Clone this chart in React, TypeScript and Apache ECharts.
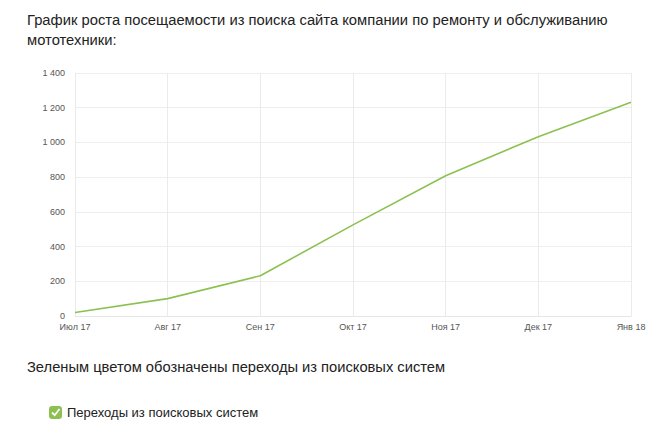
import React, { useEffect, useRef } from "react";
import * as echarts from "echarts";

const categories = ["Июл 17", "Авг 17", "Сен 17", "Окт 17", "Ноя 17", "Дек 17", "Янв 18"];
const visits = [20, 100, 232, 525, 808, 1033, 1231];
const seriesName = "Переходы из поисковых систем";
const titleLines = [
  "График роста посещаемости из поиска сайта компании по ремонту и обслуживанию",
  "мототехники:",
];
const caption = "Зеленым цветом обозначены переходы из поисковых систем";

const GREEN = "#8cc152";
const FONT = "'Liberation Sans', Arial, sans-serif";

export default function App() {
  const ref = useRef<HTMLDivElement>(null);
  useEffect(() => {
    if (!ref.current) return;
    const chart = echarts.init(ref.current, undefined, { renderer: "svg" });
    chart.setOption({
      animation: false,
      backgroundColor: "#ffffff",
      textStyle: { fontFamily: FONT },
      grid: { left: 75, right: 31, top: 73, bottom: 121, containLabel: false },
      xAxis: {
        type: "category",
        data: categories,
        boundaryGap: false,
        axisLine: { show: true, lineStyle: { color: "#e6e6e6" } },
        axisTick: { show: false },
        axisLabel: { color: "#555", fontSize: 9, margin: 6, fontFamily: FONT },
        splitLine: { show: true, lineStyle: { color: "#ebebeb", width: 1 } },
      },
      yAxis: {
        type: "value",
        min: 0,
        max: 1400,
        interval: 200,
        axisLine: { show: false },
        axisTick: { show: false },
        axisLabel: {
          color: "#555",
          fontSize: 9,
          margin: 10,
          fontFamily: FONT,
          formatter: (v: number) => String(v).replace(/\B(?=(\d{3})+(?!\d))/g, " "),
        },
        splitLine: { show: true, lineStyle: { color: "#eeeeee", width: 1 } },
      },
      legend: {
        left: 49,
        top: 406,
        itemWidth: 13,
        itemHeight: 13,
        itemGap: 6,
        icon: "roundRect",
        data: [seriesName],
        textStyle: { color: "#222", fontSize: 13, fontFamily: FONT },
        padding: 0,
      },
      series: [
        {
          name: seriesName,
          type: "line",
          data: visits,
          showSymbol: false,
          symbol: "none",
          lineStyle: { color: GREEN, width: 1.6 },
          itemStyle: { color: GREEN },
        },
      ],
      graphic: [
        {
          type: "text",
          x: 27,
          y: 10.5,
          scaleX: 0.985,
          style: {
            text: titleLines.join("\n"),
            fontSize: 15,
            lineHeight: 19.5,
            fill: "#222",
            fontFamily: FONT,
            verticalAlign: "top",
          },
        },
        {
          type: "text",
          x: 27,
          y: 359,
          scaleX: 0.98,
          style: { text: caption, fontSize: 15, fill: "#222", fontFamily: FONT, verticalAlign: "top" },
        },
        {
          type: "polyline",
          z: 100,
          shape: { points: [[52, 412.5], [54.7, 415.2], [59.5, 409]] },
          style: { stroke: "#ffffff", lineWidth: 1.8, fill: "none" },
        },
      ],
    });
    return () => chart.dispose();
  }, []);
  return (
    <div
      ref={ref}
      style={{ position: "absolute", left: 0, top: 0, width: 662, height: 437 }}
    />
  );
}
